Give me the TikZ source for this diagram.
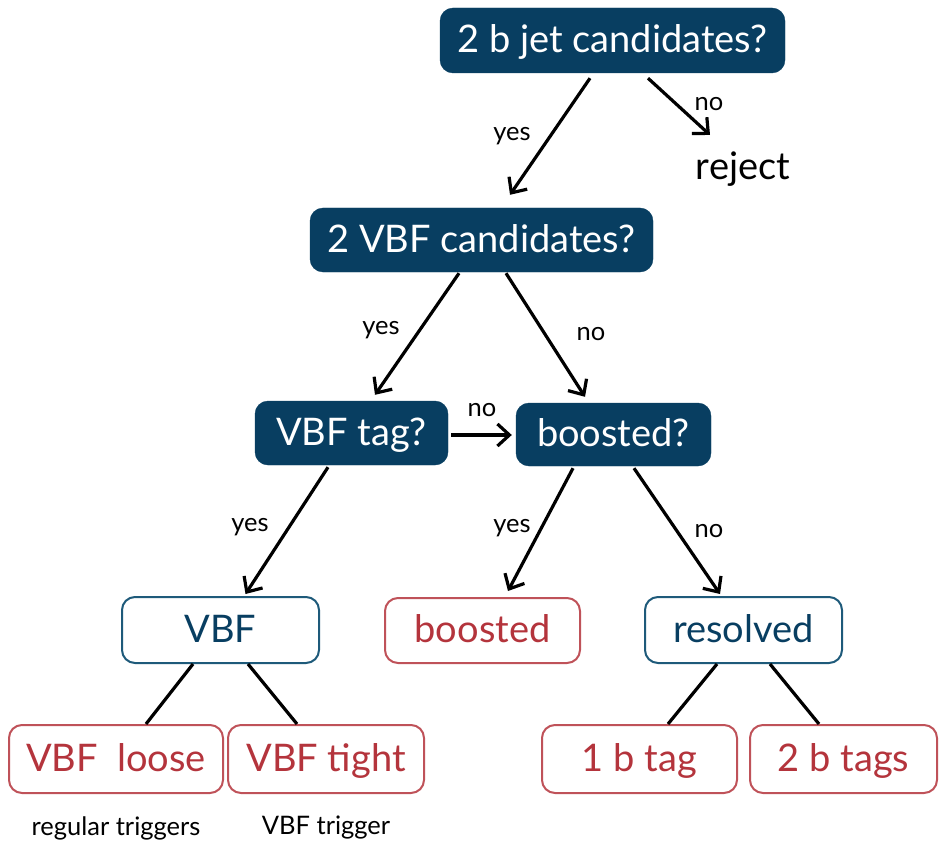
\documentclass[tikz,border=0pt]{standalone}
\usepackage{fontspec}
\setmainfont{Lato}
\usetikzlibrary{arrows.meta}
\definecolor{qblue}{RGB}{8,62,97}
\definecolor{oblue}{RGB}{30,90,122}
\definecolor{rred}{RGB}{180,52,60}
\tikzset{
  boxbase/.style={rounded corners=13pt, inner sep=0pt, text height=28pt, text depth=4pt,
    font=\fontsize{38}{42}\selectfont},
  qbox/.style={boxbase, fill=qblue, draw=qblue, text=white},
  obox/.style={boxbase, fill=white, draw=oblue, line width=2pt, text=qblue},
  rbox/.style={boxbase, fill=white, draw=rred!85, line width=2pt, text=rred},
  lbl/.style={font=\fontsize{25.5}{28}\selectfont, inner sep=0pt},
  arr/.style={line width=3.2pt, -{Straight Barb[length=12pt,width=22pt,line width=3.2pt]}},
  ln/.style={line width=3.2pt}
}
\begin{document}
\begin{tikzpicture}[x=1pt,y=-1pt]
\useasboundingbox (0,0) rectangle (941,842);
% decision boxes
\node[qbox, minimum width=345pt, minimum height=65pt] (q1) at (612.5,40.5) {2 b jet candidates?};
\node[qbox, minimum width=343pt, minimum height=64pt] (q2) at (481.5,240) {2 VBF candidates?};
\node[qbox, minimum width=193pt, minimum height=64pt] (q3) at (351.5,433) {VBF tag?};
\node[qbox, minimum width=195pt, minimum height=63pt] (q4) at (613.5,434.5) {boosted?};
\node[inner sep=0pt, font=\fontsize{38}{42}\selectfont] (rej) at (743,169) {reject};
% category boxes
\node[obox, minimum width=197pt, minimum height=66pt] (vbf) at (220.5,630) {VBF};
\node[rbox, minimum width=195pt, minimum height=65pt] (boost) at (482.5,630.5) {boosted};
\node[obox, minimum width=197pt, minimum height=66pt] (res) at (743.5,630) {resolved};
\node[rbox, minimum width=214pt, minimum height=68pt] (loose) at (116,759) {VBF\ \ loose};
\node[rbox, minimum width=196pt, minimum height=68pt] (tight) at (326,759) {VBF tight};
\node[rbox, minimum width=195pt, minimum height=68pt] (one) at (639.5,759) {1 b tag};
\node[rbox, minimum width=187pt, minimum height=68pt] (two) at (843.5,759) {2 b tags};
% connectors
\draw[arr] ([xshift=-22.5pt,yshift=-5pt]q1.south) -- ([xshift=28.5pt,yshift=13pt]q2.north);
\draw[arr] ([xshift=35.5pt,yshift=-5pt]q1.south) -- ([xshift=-33pt,yshift=34pt]rej.center);
\draw[arr] ([xshift=-22.5pt,yshift=-1pt]q2.south) -- ([xshift=23.5pt,yshift=6pt]q3.north);
\draw[arr] ([xshift=24.5pt,yshift=-1pt]q2.south) -- ([xshift=-28.5pt,yshift=6pt]q4.north);
\draw[arr] ([xshift=3pt,yshift=-2pt]q3.east) -- ([xshift=-4pt,yshift=-0.5pt]q4.west);
\draw[arr] ([xshift=-23.5pt,yshift=-2pt]q3.south) -- ([xshift=25pt,yshift=2pt]vbf.north);
\draw[arr] ([xshift=-40.5pt,yshift=-2pt]q4.south) -- ([xshift=25.5pt,yshift=6pt]boost.north);
\draw[arr] ([xshift=20.5pt,yshift=-2pt]q4.south) -- ([xshift=-23.5pt,yshift=2pt]res.north);
\draw[ln] ([xshift=-27.5pt]vbf.south) -- ([xshift=30pt]loose.north);
\draw[ln] ([xshift=27.5pt]vbf.south) -- ([xshift=-29pt]tight.north);
\draw[ln] ([xshift=-26.5pt]res.south) -- ([xshift=28.5pt]one.north);
\draw[ln] ([xshift=26.5pt]res.south) -- ([xshift=-24.5pt]two.north);
% labels
\node[lbl] (l1) at (512,136) {yes};
\node[lbl] (l2) at (709,104) {no};
\node[lbl] (l3) at (381,330) {yes};
\node[lbl] (l4) at (591,334) {no};
\node[lbl] (l5) at (482,410) {no};
\node[lbl] (l6) at (250,527) {yes};
\node[lbl] (l7) at (512,528) {yes};
\node[lbl] (l8) at (709,531) {no};
\node[lbl] (t1) at (116,828) {regular triggers};
\node[lbl] (t2) at (326,828) {VBF trigger};
\end{tikzpicture}
\end{document}
